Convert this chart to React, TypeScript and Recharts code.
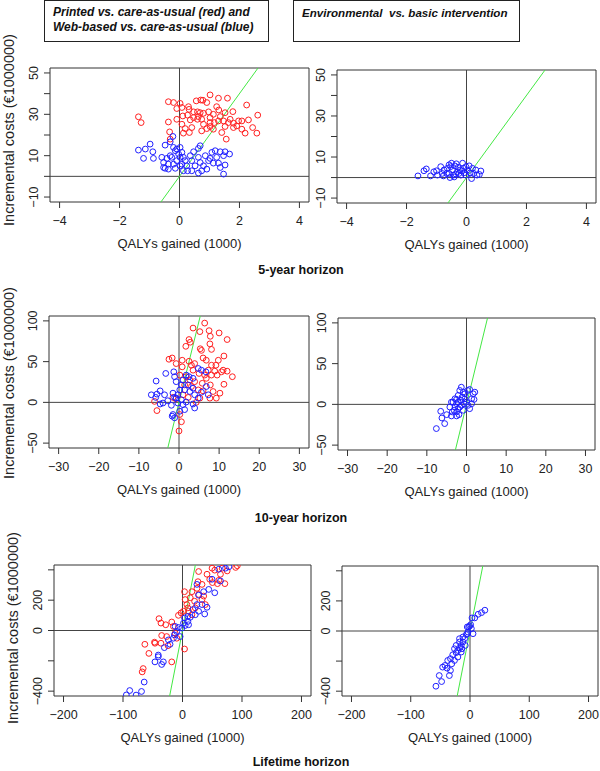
import { ReferenceArea, ReferenceLine, Scatter, ScatterChart, XAxis, YAxis } from 'recharts';

const FONT = '"Liberation Sans", Arial, Helvetica, sans-serif';
const INK = '#222';
const FRAME = '#333';
const RED = '#ff2020';
const BLUE = '#2020ff';
const GREEN = '#44e844';
const WTP = 20; // threshold line, cost = 20 x QALYs

type Pt = [number, number];

// 5-year horizon, printed (red) and web-based (blue) vs care-as-usual
const p5Red: Pt[] = [
  [-1.37, 28.8], [-1.28, 26.0], [-0.37, 36.1], [-0.2, 35.7], [0.02, 35.3], [0.08, 33.3], [-0.09, 32.8],
  [0.3, 33.7], [0.32, 32.4], [0.56, 36.5], [0.71, 36.9], [0.78, 36.8], [0.91, 35.7], [1.02, 39.4],
  [1.3, 37.8], [1.6, 37.8], [2.24, 34.5], [1.24, 33.7], [1.31, 32.1], [1.52, 30.8], [1.78, 31.3],
  [0.6, 31.2], [0.69, 30.8], [0.8, 30.5], [0.97, 31.2], [1.02, 28.4], [0.47, 28.4], [0.36, 27.3],
  [0.6, 27.6], [0.74, 27.6], [1.02, 26.0], [1.16, 26.0], [1.3, 26.8], [1.47, 26.8], [1.63, 26.0],
  [1.8, 25.7], [1.97, 26.8], [2.3, 27.3], [2.61, 29.6], [1.91, 24.4], [1.8, 23.6], [2.08, 22.8],
  [2.19, 20.9], [2.44, 23.6], [2.58, 20.9], [1.56, 18.0], [1.41, 21.2], [1.02, 24.1], [0.91, 23.1],
  [0.8, 25.2], [0.41, 23.6], [0.19, 23.1], [0.33, 21.2], [0.13, 20.9], [-0.37, 26.3], [-0.33, 21.5],
  [-0.09, 27.6], [-0.31, 18.0], [0.11, 29.2], [0.27, 29.6], [0.47, 31.2], [1.52, 24.1], [1.36, 28.9],
  [1.13, 30.0], [1.69, 27.6], [2.08, 26.8], [0.74, 22.0], [1.13, 22.8], [0.63, 28.9], [0.08, 25.2],
];
const p5Blue: Pt[] = [
  [-1.37, 12.7], [-1.14, 13.2], [-0.98, 15.6], [-0.89, 11.9], [-1.2, 8.7], [-0.87, 8.7], [-0.48, 15.1],
  [-0.22, 19.3], [-0.31, 16.7], [-0.59, 9.2], [-0.53, 6.7], [-0.48, 3.9], [-0.37, 5.9], [-0.31, 10.0],
  [-0.2, 14.0], [-0.14, 12.4], [-0.09, 13.2], [-0.03, 10.8], [0.02, 9.2], [0.08, 11.6], [0.13, 9.2],
  [0.19, 7.6], [-0.09, 7.6], [-0.2, 5.9], [-0.14, 3.9], [-0.37, 3.5], [-0.53, 4.3], [0.02, 5.1],
  [0.24, 5.1], [0.36, 10.0], [0.41, 7.6], [0.47, 11.9], [0.52, 5.1], [0.63, 13.5], [0.69, 14.8],
  [0.63, 9.2], [0.69, 6.7], [0.8, 5.1], [0.63, 1.6], [0.91, 3.5], [0.86, 10.0], [1.02, 8.7], [1.08, 11.6],
  [1.19, 12.4], [1.24, 9.2], [1.36, 11.9], [1.47, 10.0], [1.52, 11.9], [1.67, 10.8], [1.3, 6.4],
  [1.36, 4.3], [1.52, 5.5], [1.47, 1.1], [0.97, 7.6], [1.13, 6.4], [0.74, 2.7], [0.27, 2.7], [0.13, 2.7],
  [0.41, 2.7], [-0.26, 9.2], [-0.42, 8.7], [0.02, 14.0], [0.08, 5.9],
];
// 5-year horizon, environmental vs basic intervention
const e5Blue: Pt[] = [
  [-1.62, 0.8], [-1.42, 3.3], [-1.34, 4.2], [-1.2, 0.8], [-1.09, 2.8], [-1.0, 3.3], [-0.86, 5.3],
  [-0.77, 0.8], [-0.75, 3.7], [-0.64, 4.5], [-0.58, 2.0], [-0.53, 5.3], [-0.47, 3.7], [-0.44, 1.2],
  [-0.39, 5.7], [-0.34, 6.7], [-0.3, 2.8], [-0.28, 5.0], [-0.21, 3.7], [-0.19, 1.2], [-0.13, 7.0],
  [-0.1, 4.5], [-0.08, 2.3], [-0.02, 5.3], [0.03, 3.7], [0.09, 5.7], [0.12, 2.3], [0.17, -0.5],
  [0.2, 4.5], [0.31, 3.7], [0.35, 1.2], [0.43, 1.5], [0.48, 3.2], [-0.55, 0.0], [-0.41, 0.3],
  [-0.66, 2.0], [-0.36, 1.7], [-0.25, 2.0], [-0.16, 3.2], [-0.81, 2.0], [-0.97, 1.2], [-0.5, 7.0],
  [-0.02, 1.2], [0.24, 2.0], [-0.58, 6.2],
];

// 10-year horizon
const p10Red: Pt[] = [
  [6.4, 97.3], [3.5, 91.2], [7.5, 88.0], [10.0, 85.2], [5.2, 86.8], [12.0, 77.1], [7.8, 81.1], [2.5, 77.1],
  [2.8, 73.8], [1.7, 68.8], [5.3, 65.8], [5.6, 63.8], [7.7, 71.8], [8.1, 65.0], [-2.5, 52.9], [-1.7, 54.5],
  [0.8, 51.7], [2.5, 50.4], [3.1, 45.6], [3.9, 47.6], [6.0, 54.5], [6.8, 51.7], [9.8, 51.7], [11.2, 56.9],
  [9.2, 45.6], [8.1, 45.6], [11.0, 39.5], [12.0, 38.3], [13.3, 31.5], [7.3, 39.5], [6.4, 33.5], [5.0, 35.5],
  [8.9, 38.3], [9.5, 33.5], [2.7, 27.4], [3.9, 25.4], [5.8, 23.4], [7.8, 21.4], [11.2, 22.2], [1.4, 21.4],
  [3.1, 19.4], [4.8, 15.3], [6.0, 14.1], [8.5, 13.3], [10.2, 11.3], [0.8, 43.6], [-0.7, 47.6], [1.0, 9.3],
  [2.3, 6.1], [-0.8, 4.4], [-6.1, 1.2], [-5.5, -10.1], [-1.5, 6.1], [0.2, -14.9], [0.6, -23.8], [0.0, -35.1],
  [4.3, 0.0], [7.7, 5.2], [9.3, 5.2], [5.2, 5.2], [6.8, 29.5], [8.1, 33.5], [10.6, 37.5], [3.5, 39.5],
  [0.2, 33.5], [1.8, 31.5],
];
const p10Blue: Pt[] = [
  [-5.7, 26.2], [-3.3, 35.5], [-1.3, 37.5], [-1.1, 31.5], [-0.7, 25.4], [-6.9, 9.3], [-5.5, 10.1],
  [-4.7, 14.1], [-5.8, 6.1], [-4.0, -0.8], [-2.8, 2.0], [-1.9, -3.6], [-1.5, 11.3], [-1.1, 6.1], [-0.3, 9.3],
  [0.2, 15.3], [0.6, 21.4], [1.0, 27.4], [1.8, 33.5], [2.5, 31.5], [3.5, 29.5], [4.8, 41.6], [5.6, 39.5],
  [6.7, 37.5], [1.4, 15.3], [2.3, 21.4], [2.7, 13.3], [3.5, 17.4], [3.9, 9.3], [4.8, 5.2], [5.6, 12.5],
  [6.8, 19.4], [7.3, 9.3], [0.6, 3.2], [1.0, -2.8], [1.4, -8.9], [-1.5, -14.9], [-1.7, -16.9], [-1.1, -19.0],
  [1.8, 0.4], [3.5, -2.0], [3.9, -6.9], [0.2, -10.9], [-0.3, -0.8], [-0.7, 5.2], [-3.6, 9.3], [-4.7, -2.0],
];
const e10Blue: Pt[] = [
  [-7.6, -29.7], [-5.5, -23.6], [-6.2, -16.7], [-6.5, -8.5], [-5.0, -12.6], [-3.8, -14.2], [-2.5, -14.2],
  [-1.9, -12.6], [-4.2, -3.3], [-3.8, 2.8], [-2.9, 6.9], [-2.5, 0.8], [-2.1, 11.0], [-1.7, 17.1], [-1.3, 21.1],
  [-0.8, 15.0], [-0.4, 6.9], [0.3, 17.1], [0.8, 18.3], [1.7, 13.0], [2.1, 15.0], [1.3, 6.9], [0.8, -5.3],
  [1.9, 6.1], [-2.1, -5.3], [-1.3, -1.2], [-0.8, -7.3], [-3.1, -7.3], [-2.1, 2.8], [-1.4, 4.9], [-2.9, -3.3],
  [-0.6, 0.8], [0.0, 2.8], [-3.4, 2.8], [-1.7, -3.3], [-1.1, 8.9], [-0.4, 13.0], [-2.5, -9.3], [-3.6, -9.3],
  [0.4, -1.2], [-2.5, 6.1], [1.3, 0.8],
];

// lifetime horizon
const pLifeRed: Pt[] = [
  [27.1, 389], [49.7, 411], [54.2, 398], [66.7, 411], [89.3, 416], [92.1, 427], [41.2, 371], [45.8, 338],
  [50.3, 316], [58.8, 309], [71.2, 309], [61.0, 331], [32.8, 304], [24.3, 278], [15.8, 256], [27.1, 238],
  [35.6, 227], [32.8, 204], [3.4, 256], [4.5, 204], [13.0, 216], [20.3, 193], [7.3, 171], [1.7, 127],
  [-2.3, 116], [10.2, 127], [15.8, 104], [-39.5, 78], [-36.2, 49], [-28.2, 38], [-18.1, 56], [-15.3, 27],
  [-35.0, -33], [-26.6, -40], [-46.3, -84], [-63.3, -91], [-56.5, -151], [-36.2, -84], [-24.3, -100],
  [-18.1, -207], [-66.1, -251], [-67.8, -273], [3.4, -122], [-9.6, -51], [-12.4, -18], [-6.8, 100],
  [9.0, 149], [26.0, 322], [63.8, 371], [75.1, 393], [38.4, 171], [21.5, 149], [-47.0, -77],
];
const pLifeBlue: Pt[] = [
  [61.0, 404], [72.3, 411], [78.0, 420], [49.7, 338], [63.8, 327], [54.2, 249], [44.1, 271], [35.6, 256],
  [27.1, 233], [24.3, 304], [32.8, 171], [41.2, 153], [37.3, 109], [27.1, 127], [21.5, 104], [13.0, 87],
  [9.0, 60], [4.5, 33], [-1.1, 16], [-6.8, 20], [-12.4, 27], [-9.6, -7], [-4.0, -40], [-15.3, -51],
  [-20.9, -91], [-30.5, -113], [-40.7, -162], [-46.3, -207], [-35.0, -224], [-32.2, -207], [-64.4, -340],
  [-68.9, -402], [-88.7, -396], [-94.4, -425], [9.0, 93], [17.5, 138], [24.3, 171], [3.4, 82], [1.7, 49],
  [10.2, 38], [-13.6, -29], [-23.7, -62], [-40.7, -173], [-78.0, -426],
];
const eLifeBlue: Pt[] = [
  [25.1, 138], [19.4, 122], [13.7, 111], [8.0, 87], [3.4, 87], [-4.6, 27], [-0.6, 33], [2.3, 16], [5.1, -18],
  [-3.4, -7], [-6.3, -24], [-9.1, -51], [-12.0, -73], [-14.8, -96], [-17.7, -113], [-20.5, -129],
  [-23.4, -144], [-29.1, -158], [-33.0, -184], [-37.6, -196], [-42.2, -229], [-46.2, -240], [-38.7, -247],
  [-33.0, -262], [-51.9, -296], [-47.9, -336], [-57.5, -367], [-34.8, -296], [-26.2, -118], [-17.7, -73],
  [-12.0, -40], [-8.0, -96], [-20.5, -173], [-26.2, -196], [-2.3, 27], [1.1, 42], [-4.6, -18], [-14.8, -140],
  [-23.4, -96], [-17.7, -51], [-30.8, -218], [-13.7, -118],
];

// axes
const x5Domain: [number, number] = [-4.32, 4.32];
const x5Ticks = [-4, -2, 0, 2, 4];
const y5Domain: [number, number] = [-12.4, 52.4];
const y5Ticks = [-10, 0, 10, 20, 30, 40, 50];
const y5Labels = [-10, 10, 30, 50];

const x10Domain: [number, number] = [-32.4, 32.4];
const x10Ticks = [-30, -20, -10, 0, 10, 20, 30];
const y10Domain: [number, number] = [-56, 106];
const y10Ticks = [-50, 0, 50, 100];

const xLifeDomain: [number, number] = [-216, 216];
const xLifeTicks = [-200, -100, 0, 100, 200];
const yLifeDomain: [number, number] = [-432, 432];
const yLifeTicks = [-400, -200, 0, 200, 400];
const yLifeLabels = [-400, 0, 200];

const Y_TITLE = 'Incremental costs (€1000000)';
const X_TITLE = 'QALYs gained (1000)';

const toXY = (pts: Pt[]) => pts.map(([x, y]) => ({ x, y }));
const fmt = (v: number) => (v < 0 ? '\u2212' + Math.abs(v) : String(v));

function YTick(props: any) {
  const { x, y, payload, shown } = props;
  if (shown && !shown.includes(payload.value)) return <g />;
  const cx = x - 10;
  return (
    <text
      x={cx}
      y={y}
      transform={`rotate(-90, ${cx}, ${y})`}
      textAnchor="middle"
      dominantBaseline="central"
      fontSize={12.5}
      fill={INK}
    >
      {fmt(payload.value)}
    </text>
  );
}

interface Series {
  pts: Pt[];
  color: string;
}

interface PanelProps {
  box: [number, number, number, number]; // plot frame: left, top, right, bottom
  xDomain: [number, number];
  xTicks: number[];
  yDomain: [number, number];
  yTicks: number[];
  yShown?: number[];
  series: Series[];
}

function Panel({ box, xDomain, xTicks, yDomain, yTicks, yShown, series }: PanelProps) {
  const [L, T, R, B] = box;
  const left = L - 30;
  const top = T - 8;
  const width = R - left + 2;
  const height = B - top + 50;
  const seg = [
    { x: yDomain[0] / WTP, y: yDomain[0] },
    { x: yDomain[1] / WTP, y: yDomain[1] },
  ];
  return (
    <div style={{ position: 'absolute', left, top }}>
      <ScatterChart width={width} height={height} margin={{ top: 8, right: 2, bottom: 0, left: 0 }}>
        <XAxis
          type="number"
          dataKey="x"
          domain={xDomain}
          ticks={xTicks}
          interval={0}
          allowDataOverflow
          axisLine={false}
          tickLine={{ stroke: FRAME }}
          tickSize={6}
          tickMargin={8}
          height={50}
          tick={{ fontSize: 12.5, fill: INK }}
          tickFormatter={fmt}
          label={{ value: X_TITLE, position: 'insideBottom', offset: 4, fontSize: 13, fill: INK }}
        />
        <YAxis
          type="number"
          dataKey="y"
          domain={yDomain}
          ticks={yTicks}
          interval={0}
          allowDataOverflow
          axisLine={false}
          tickLine={{ stroke: FRAME }}
          tickSize={6}
          tickMargin={0}
          width={30}
          tick={(p: any) => <YTick {...p} shown={yShown} />}
        />
        <ReferenceArea
          x1={xDomain[0]}
          x2={xDomain[1]}
          y1={yDomain[0]}
          y2={yDomain[1]}
          fill="none"
          stroke={FRAME}
          strokeWidth={1}
          ifOverflow="visible"
        />
        <ReferenceLine x={0} stroke="#444" />
        <ReferenceLine y={0} stroke="#444" />
        {series.map((s, i) => (
          <Scatter
            key={i}
            data={toXY(s.pts)}
            isAnimationActive={false}
            shape={(p: any) => <circle cx={p.cx} cy={p.cy} r={2.9} fill="none" stroke={s.color} strokeWidth={1} />}
          />
        ))}
        <ReferenceLine segment={seg} stroke={GREEN} strokeWidth={1} />
      </ScatterChart>
    </div>
  );
}

function YTitle({ cx, cy }: { cx: number; cy: number }) {
  return (
    <div
      style={{
        position: 'absolute',
        left: cx,
        top: cy,
        transform: 'translate(-50%, -50%) rotate(-90deg)',
        whiteSpace: 'nowrap',
        fontSize: 14.5,
        color: INK,
      }}
    >
      {Y_TITLE}
    </div>
  );
}

function Horizon({ text, cy }: { text: string; cy: number }) {
  return (
    <div
      style={{
        position: 'absolute',
        left: 0,
        width: 602,
        top: cy - 8,
        lineHeight: '16px',
        textAlign: 'center',
        fontWeight: 'bold',
        fontSize: 12.5,
        color: '#111',
      }}
    >
      {text}
    </div>
  );
}

const headerBox: React.CSSProperties = {
  position: 'absolute',
  top: 0,
  height: 42,
  boxSizing: 'border-box',
  border: '1px solid #222',
  padding: '4px 8px',
  fontWeight: 'bold',
  fontStyle: 'italic',
  fontSize: 12,
  lineHeight: '15px',
  color: '#111',
  whiteSpace: 'nowrap',
};

export default function App() {
  return (
    <div
      style={{
        position: 'absolute',
        left: 0,
        top: 0,
        width: 600,
        height: 771,
        background: '#fff',
        fontFamily: FONT,
        overflow: 'hidden',
      }}
    >
      <div style={{ ...headerBox, left: 44, width: 225 }}>
        Printed vs. care-as-usual (red) and
        <br />
        Web-based vs. care-as-usual (blue)
      </div>
      <div style={{ ...headerBox, left: 293, width: 227, fontSize: 11.6 }}>
        Environmental&nbsp; vs. basic intervention
      </div>

      <YTitle cx={9} cy={130} />
      <Panel
        box={[50, 68, 309, 202]}
        xDomain={x5Domain}
        xTicks={x5Ticks}
        yDomain={y5Domain}
        yTicks={y5Ticks}
        yShown={y5Labels}
        series={[
          { pts: p5Red, color: RED },
          { pts: p5Blue, color: BLUE },
        ]}
      />
      <Panel
        box={[337, 70, 596, 203]}
        xDomain={x5Domain}
        xTicks={x5Ticks}
        yDomain={y5Domain}
        yTicks={y5Ticks}
        yShown={y5Labels}
        series={[{ pts: e5Blue, color: BLUE }]}
      />
      <Horizon text="5-year horizon" cy={270} />

      <YTitle cx={9} cy={383} />
      <Panel
        box={[49, 316, 309, 448]}
        xDomain={x10Domain}
        xTicks={x10Ticks}
        yDomain={y10Domain}
        yTicks={y10Ticks}
        series={[
          { pts: p10Red, color: RED },
          { pts: p10Blue, color: BLUE },
        ]}
      />
      <Panel
        box={[338, 318, 595, 450]}
        xDomain={x10Domain}
        xTicks={x10Ticks}
        yDomain={y10Domain}
        yTicks={y10Ticks}
        series={[{ pts: e10Blue, color: BLUE }]}
      />
      <Horizon text="10-year horizon" cy={518} />

      <YTitle cx={13} cy={628} />
      <Panel
        box={[54, 565, 311, 696]}
        xDomain={xLifeDomain}
        xTicks={xLifeTicks}
        yDomain={yLifeDomain}
        yTicks={yLifeTicks}
        yShown={yLifeLabels}
        series={[
          { pts: pLifeRed, color: RED },
          { pts: pLifeBlue, color: BLUE },
        ]}
      />
      <Panel
        box={[342, 566, 598, 696]}
        xDomain={xLifeDomain}
        xTicks={xLifeTicks}
        yDomain={yLifeDomain}
        yTicks={yLifeTicks}
        yShown={yLifeLabels}
        series={[{ pts: eLifeBlue, color: BLUE }]}
      />
      <Horizon text="Lifetime horizon" cy={762} />
    </div>
  );
}
